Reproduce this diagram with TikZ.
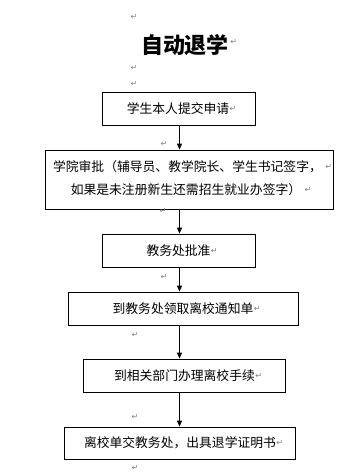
\documentclass[tikz,border=0pt]{standalone}
\usepackage{fontspec}
\setmainfont{Noto Sans CJK SC}
\newfontfamily\symfont{DejaVu Sans}
\usetikzlibrary{arrows.meta}
\definecolor{markgray}{HTML}{808080}
\tikzset{
  flowbox/.style={draw=black, line width=0.8pt, inner sep=0pt},
  boxtext/.style={inner sep=0pt, font=\fontsize{12.8pt}{15pt}\selectfont},
  pmark/.style={inner sep=0pt, text=markgray, font=\symfont\fontsize{8pt}{9pt}\selectfont},
  flowarrow/.style={line width=0.8pt, -{Triangle[width=5pt,length=6pt]}}
}
\begin{document}
\begin{tikzpicture}[x=1pt,y=-1pt]
\useasboundingbox (0,0) rectangle (344,475);
% title
\node[inner sep=0pt, font=\bfseries\fontsize{22pt}{26pt}\selectfont] (title) at (185,45) {自动退学};
\node[pmark, anchor=west] (mt) at ([xshift=1pt,yshift=3pt]title.east) {↵};
\node[pmark] (m0) at (134,17) {↵};
\node[pmark] (m1) at (134,68) {↵};
\node[pmark] (m2) at (134,84) {↵};
% boxes
\node[flowbox, minimum width=153pt, minimum height=33pt] (b1) at (178.5,108.5) {};
\node[flowbox, minimum width=288pt, minimum height=59pt] (b2) at (189,179.5) {};
\node[flowbox, minimum width=153pt, minimum height=33pt] (b3) at (178.5,250.5) {};
\node[flowbox, minimum width=230pt, minimum height=33pt] (b4) at (183,308.5) {};
\node[flowbox, minimum width=202pt, minimum height=33pt] (b5) at (184,375.5) {};
\node[flowbox, minimum width=231pt, minimum height=32pt] (b6) at (179.5,443) {};
% texts
\node[boxtext] (t1) at (178,108.5) {学生本人提交申请};
\node[pmark, anchor=west] at (t1.east) {↵};
\node[boxtext] (t2a) at (187.5,167) {学院审批（辅导员、教学院长、学生书记签字，};
\node[pmark, anchor=west] at ([xshift=3pt]t2a.east) {↵};
\node[boxtext] (t2b) at (186,190) {如果是未注册新生还需招生就业办签字）};
\node[pmark, anchor=west] at ([xshift=3pt]t2b.east) {↵};
\node[boxtext] (t3) at (178.5,250.5) {教务处批准};
\node[pmark, anchor=west] at (t3.east) {↵};
\node[boxtext] (t4) at (183,308.5) {到教务处领取离校通知单};
\node[pmark, anchor=west] at (t4.east) {↵};
\node[boxtext] (t5) at (184.5,376) {到相关部门办理离校手续};
\node[pmark, anchor=west] at (t5.east) {↵};
\node[boxtext] (t6) at (180,443) {离校单交教务处，出具退学证明书};
\node[pmark, anchor=west] at (t6.east) {↵};
% paragraph marks between boxes
\node[pmark] (m3) at (164,144) {↵};
\node[pmark] (m4) at (163,211) {↵};
\node[pmark] (m5) at (164,277) {↵};
\node[pmark] (m6) at (135,335) {↵};
\node[pmark] (m7) at (135,417) {↵};
\node[pmark] (m8) at (135,468) {↵};
% arrows
\coordinate (ax) at (179.5,0);
\draw[flowarrow] (b1.south -| ax) -- (b2.north -| ax);
\draw[flowarrow] (b2.south -| ax) -- (b3.north -| ax);
\draw[flowarrow] (b3.south -| ax) -- (b4.north -| ax);
\draw[flowarrow] (b4.south -| ax) -- (b5.north -| ax);
\draw[flowarrow] (b5.south -| ax) -- (b6.north -| ax);
\end{tikzpicture}
\end{document}
